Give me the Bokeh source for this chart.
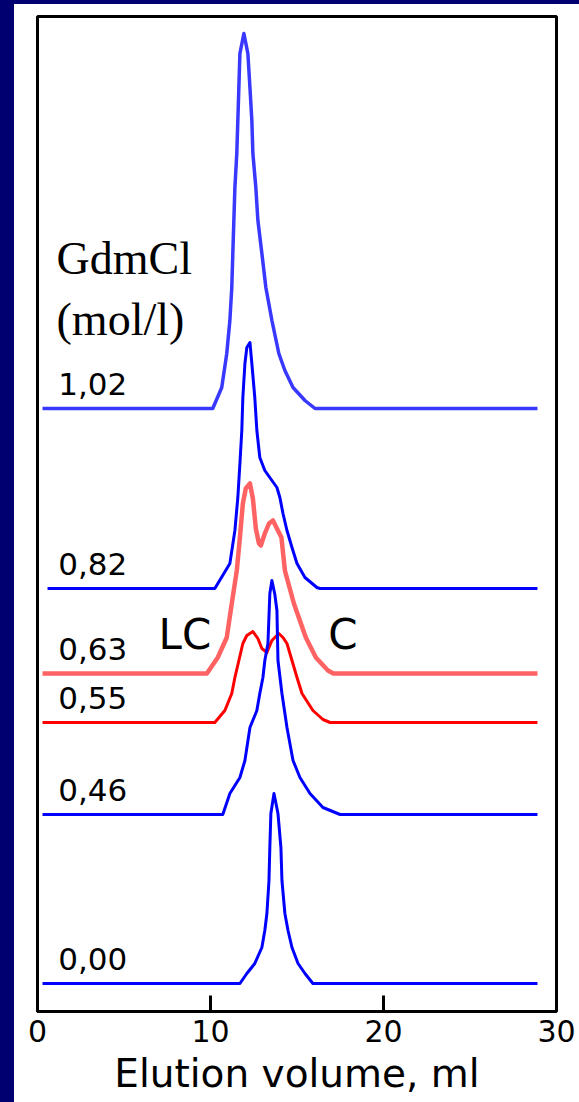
from bokeh.plotting import figure
from bokeh.models import Range1d, FixedTicker, Label, Div
from bokeh.layouts import row, column
from bokeh.embed import file_html
from bokeh.resources import INLINE

# ---------------- data ----------------
x_ticks = [0, 10, 20, 30]
x_axis_title = "Elution volume, ml"
legend_title = ["GdmCl", "(mol/l)"]
peak_names = ["LC", "C"]

conc_labels = ["1,02", "0,82", "0,63", "0,55", "0,46", "0,00"]
# vertical offset of each trace baseline (arbitrary signal units)
offsets = [603, 423, 338, 289, 197, 28]

# elution volume (ml) and signal above baseline for each trace
x_102 = [0.29, 10.13, 10.65, 10.94, 11.12, 11.23, 11.29, 11.35, 11.41, 11.52, 11.58, 11.70, 11.93,
         12.16, 12.28, 12.39, 12.45, 12.62, 12.74, 12.97, 13.20, 13.55, 13.95, 14.30, 14.77, 15.46, 16.04, 28.9]
h_102 = [0, 0, 21, 55, 88, 121, 155, 188, 221, 255, 288, 355, 375,
         355, 321, 288, 255, 221, 188, 155, 121, 88, 55, 38, 21, 8, 0, 0]

x_082 = [0.58, 10.25, 11.12, 11.41, 11.58, 11.70, 11.81, 11.87, 11.99, 12.10, 12.28, 12.39, 12.56, 12.68,
         12.85, 13.14, 13.55, 13.84, 14.01, 14.19, 14.42, 14.71, 15.00, 15.46, 16.15, 16.33, 28.9]
h_082 = [0, 0, 25, 58, 91, 125, 158, 191, 225, 241, 246, 225, 191, 158,
         131, 118, 108, 101, 91, 75, 58, 41, 25, 11, 1, 0, 0]

x_063 = [0.29, 9.79, 10.42, 10.94, 11.23, 11.52, 11.70, 11.87, 12.04, 12.28, 12.45, 12.62, 12.80, 12.91,
         13.14, 13.38, 13.61, 13.84, 14.10, 14.30, 14.82, 15.51, 16.09, 16.79, 17.10, 28.9]
h_063 = [0, 0, 16, 36, 70, 103, 136, 170, 185, 190, 175, 145, 130, 128,
         140, 150, 153, 145, 136, 103, 70, 36, 16, 3, 0, 0]

x_055 = [0.29, 10.25, 10.83, 11.23, 11.41, 11.64, 11.87, 12.10, 12.45, 12.74, 12.97, 13.26, 13.55, 13.95,
         14.19, 14.42, 14.71, 15.00, 15.29, 15.92, 16.50, 16.91, 28.9]
h_055 = [0, 0, 12, 29, 45, 62, 79, 87, 91, 84, 74, 70, 82, 89,
         85, 79, 62, 45, 29, 12, 3, 0, 0]

x_046 = [0.29, 10.71, 11.12, 11.70, 11.99, 12.28, 12.68, 12.85, 13.03, 13.14, 13.32, 13.43, 13.55, 13.72,
         13.84, 13.90, 14.13, 14.42, 14.77, 15.17, 15.75, 16.50, 17.49, 28.9]
h_046 = [0, 0, 21, 37, 54, 87, 104, 121, 137, 154, 171, 221, 234, 220,
         204, 154, 121, 87, 54, 37, 21, 7, 0, 0]

x_000 = [0.29, 11.70, 12.10, 12.56, 12.97, 13.14, 13.26, 13.38, 13.43, 13.49, 13.67, 13.90, 14.07, 14.13,
         14.30, 14.48, 14.71, 15.06, 15.46, 15.92, 28.9]
h_000 = [0, 0, 10, 20, 36, 53, 70, 103, 136, 170, 190, 170, 136, 103,
         70, 53, 36, 20, 10, 0, 0]

xs = [x_102, x_082, x_063, x_055, x_046, x_000]
hs = [h_102, h_082, h_063, h_055, h_046, h_000]

# ---------------- styles ----------------
colors = ["#3838ff", "#0000ff", "#ff6262", "#ff0000", "#0000ff", "#0000ff"]
widths = [3.5, 3, 4.5, 3, 3, 3]
NAVY = "#000070"

p = figure(width=565, height=1098, output_backend="svg", toolbar_location=None,
           x_range=Range1d(0, 30), y_range=Range1d(0, 995),
           y_axis_location=None, min_border_left=23, min_border_right=23,
           min_border_top=12, min_border_bottom=91)
p.background_fill_color = "white"
p.border_fill_color = "white"
p.outline_line_color = "black"
p.outline_line_width = 3
p.grid.visible = False

ax = p.xaxis[0]
ax.ticker = FixedTicker(ticks=x_ticks)
ax.minor_tick_line_color = None
ax.major_tick_in = 16
ax.major_tick_out = 0
ax.major_tick_line_width = 3
ax.major_tick_line_color = "black"
ax.axis_line_width = 3
ax.axis_line_color = "black"
ax.major_label_text_font = "DejaVu Sans"
ax.major_label_text_font_size = "30px"
ax.major_label_text_color = "black"
ax.major_label_standoff = 8
ax.axis_label = x_axis_title
ax.axis_label_text_font = "DejaVu Sans"
ax.axis_label_text_font_size = "39px"
ax.axis_label_text_font_style = "normal"
ax.axis_label_text_color = "black"
ax.axis_label_standoff = 6

order = [3, 2, 1, 0, 4, 5]
for i in order:
    ys = [offsets[i] + h for h in hs[i]]
    p.line(xs[i], ys, line_color=colors[i], line_width=widths[i], line_join="round")

for i, lab in enumerate(conc_labels):
    p.add_layout(Label(x=1.2, y=offsets[i] + 25, text=lab, text_font="DejaVu Sans",
                       text_font_size="31px", text_color="black", text_baseline="alphabetic"))

p.add_layout(Label(x=1.1, y=753, text=legend_title[0], text_font="Liberation Serif",
                   text_font_size="46px", text_color="black", text_baseline="alphabetic"))
p.add_layout(Label(x=1.1, y=692, text=legend_title[1], text_font="Liberation Serif",
                   text_font_size="46px", text_color="black", text_baseline="alphabetic"))
p.add_layout(Label(x=7.0, y=377, text=peak_names[0], text_font="DejaVu Sans",
                   text_font_size="42px", text_color="black", text_baseline="alphabetic"))
p.add_layout(Label(x=16.8, y=377, text=peak_names[1], text_font="DejaVu Sans",
                   text_font_size="42px", text_color="black", text_baseline="alphabetic"))

# navy slide background strips (left and top)
left_strip = Div(text="", width=14, height=1102, margin=0,
                 styles={"background-color": NAVY})
top_strip = Div(text="", width=565, height=4, margin=0,
                styles={"background-color": NAVY})
layout = row(left_strip, column(top_strip, p, spacing=0), spacing=0)

html = file_html(layout, INLINE, title="Elution profiles")
html = html.replace("<body>", '<body style="margin:0;background-color:white;">', 1)
open("out.html", "w").write(html)
